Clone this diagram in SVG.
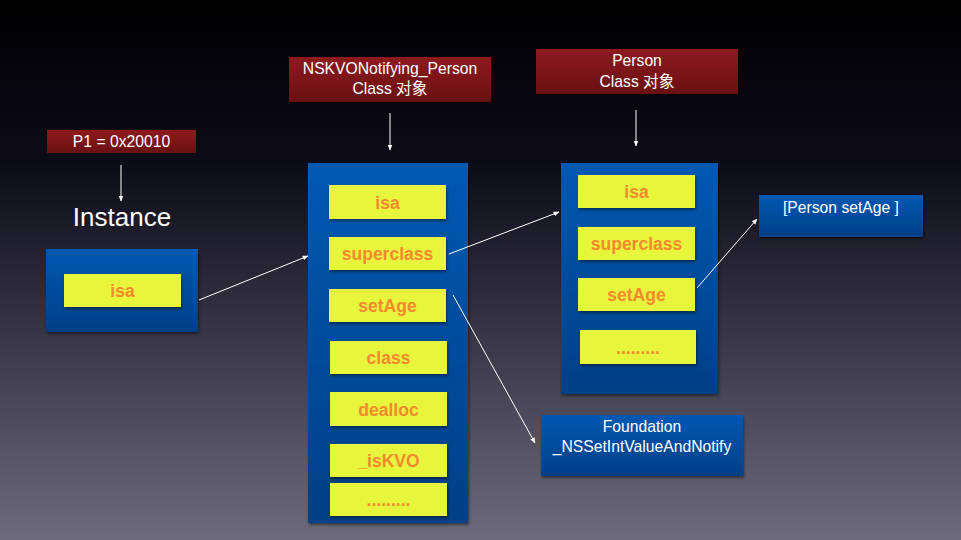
<svg xmlns="http://www.w3.org/2000/svg" width="961" height="540" viewBox="0 0 961 540">
<defs>
<linearGradient id="bg" x1="0" y1="0" x2="0" y2="1">
<stop offset="0" stop-color="#000000"/>
<stop offset="0.3" stop-color="#0c0b18"/>
<stop offset="1" stop-color="#6d6a7c"/>
</linearGradient>
<linearGradient id="blue" x1="0" y1="0" x2="0" y2="1">
<stop offset="0" stop-color="#0059b2"/>
<stop offset="1" stop-color="#003f86"/>
</linearGradient>
<linearGradient id="red" x1="0" y1="0" x2="0" y2="1">
<stop offset="0" stop-color="#8e1a1e"/>
<stop offset="1" stop-color="#6a1012"/>
</linearGradient>
<filter id="sh" x="-10%" y="-10%" width="130%" height="130%">
<feDropShadow dx="1" dy="2" stdDeviation="1.5" flood-color="#000" flood-opacity="0.45"/>
</filter>
<marker id="ah" viewBox="0 0 10 10" refX="9" refY="5" markerWidth="6" markerHeight="6" orient="auto" markerUnits="userSpaceOnUse">
<path d="M0,1 L10,5 L0,9 z" fill="#ffffff"/>
</marker>
<style>
.blue{fill:url(#blue);filter:url(#sh)}
.red{fill:url(#red)}
.yel{fill:#e8f53c;filter:url(#sh)}
.slot{font-family:"Liberation Sans",Arial,sans-serif;font-size:17.5px;font-weight:bold;fill:#f5892e;text-anchor:middle}
.hdr{font-family:"Liberation Sans","Noto Sans CJK SC",sans-serif;font-size:15.7px;fill:#ffffff;text-anchor:middle}
.conn{stroke:#ffffff;stroke-width:1;fill:none;marker-end:url(#ah)}
</style>
</defs>
<rect x="0" y="0" width="961" height="540" fill="url(#bg)"/>

<g id="p1">
<rect class="red" x="47" y="130" width="149" height="23"/>
<text class="hdr" x="121.5" y="147">P1 = 0x20010</text>
</g>

<g id="instance-label">
<text x="122" y="226" font-family="Liberation Sans,Arial,sans-serif" font-size="26" fill="#ffffff" text-anchor="middle">Instance</text>
</g>

<g id="instance">
<rect class="blue" x="46" y="249" width="152" height="83"/>
<rect class="yel" x="64" y="274" width="117" height="33"/>
<text class="slot" x="122.5" y="297">isa</text>
</g>

<g id="nskvo-header">
<rect class="red" x="289" y="57" width="202" height="45"/>
<text class="hdr" x="390" y="74">NSKVONotifying_Person</text>
<text class="hdr" x="390" y="94">Class 对象</text>
</g>

<g id="nskvo-class">
<rect class="blue" x="308" y="163" width="160" height="360"/>
<rect class="yel" x="329" y="185" width="117" height="34"/>
<text class="slot" x="387.5" y="208.5">isa</text>
<rect class="yel" x="329" y="237" width="117" height="33"/>
<text class="slot" x="387.5" y="260">superclass</text>
<rect class="yel" x="329" y="289" width="117" height="33"/>
<text class="slot" x="387.5" y="312">setAge</text>
<rect class="yel" x="330" y="341" width="117" height="33"/>
<text class="slot" x="388.5" y="364">class</text>
<rect class="yel" x="330" y="392" width="117" height="34"/>
<text class="slot" x="388.5" y="415.5">dealloc</text>
<rect class="yel" x="330" y="444" width="117" height="33"/>
<text class="slot" x="388.5" y="467">_isKVO</text>
<rect class="yel" x="330" y="483" width="117" height="33"/>
<text class="slot" x="388.5" y="506">.........</text>
</g>

<g id="person-header">
<rect class="red" x="536" y="49" width="202" height="45"/>
<text class="hdr" x="637" y="66">Person</text>
<text class="hdr" x="637" y="87">Class 对象</text>
</g>

<g id="person-class">
<rect class="blue" x="561" y="163" width="157" height="231"/>
<rect class="yel" x="578" y="175" width="117" height="33"/>
<text class="slot" x="636.5" y="198">isa</text>
<rect class="yel" x="578" y="227" width="117" height="33"/>
<text class="slot" x="636.5" y="250">superclass</text>
<rect class="yel" x="578" y="278" width="117" height="33"/>
<text class="slot" x="636.5" y="301">setAge</text>
<rect class="yel" x="580" y="330" width="116" height="34"/>
<text class="slot" x="638" y="353.5">.........</text>
</g>

<g id="person-setage">
<rect class="blue" x="759" y="195" width="164" height="42"/>
<text class="hdr" x="841" y="213">[Person setAge ]</text>
</g>

<g id="foundation">
<rect class="blue" x="541" y="415" width="202" height="61"/>
<text class="hdr" x="642" y="432">Foundation</text>
<text class="hdr" x="642" y="452">_NSSetIntValueAndNotify</text>
</g>

<g id="connectors">
<line class="conn" x1="121" y1="165" x2="121" y2="201"/>
<line class="conn" x1="390" y1="113" x2="390" y2="150"/>
<line class="conn" x1="636" y1="110" x2="636" y2="146"/>
<line class="conn" x1="199" y1="300" x2="308" y2="256"/>
<line class="conn" x1="449" y1="254" x2="559" y2="212"/>
<line class="conn" x1="453" y1="295" x2="535" y2="443"/>
<line class="conn" x1="697" y1="288" x2="757" y2="219"/>
</g>
</svg>
